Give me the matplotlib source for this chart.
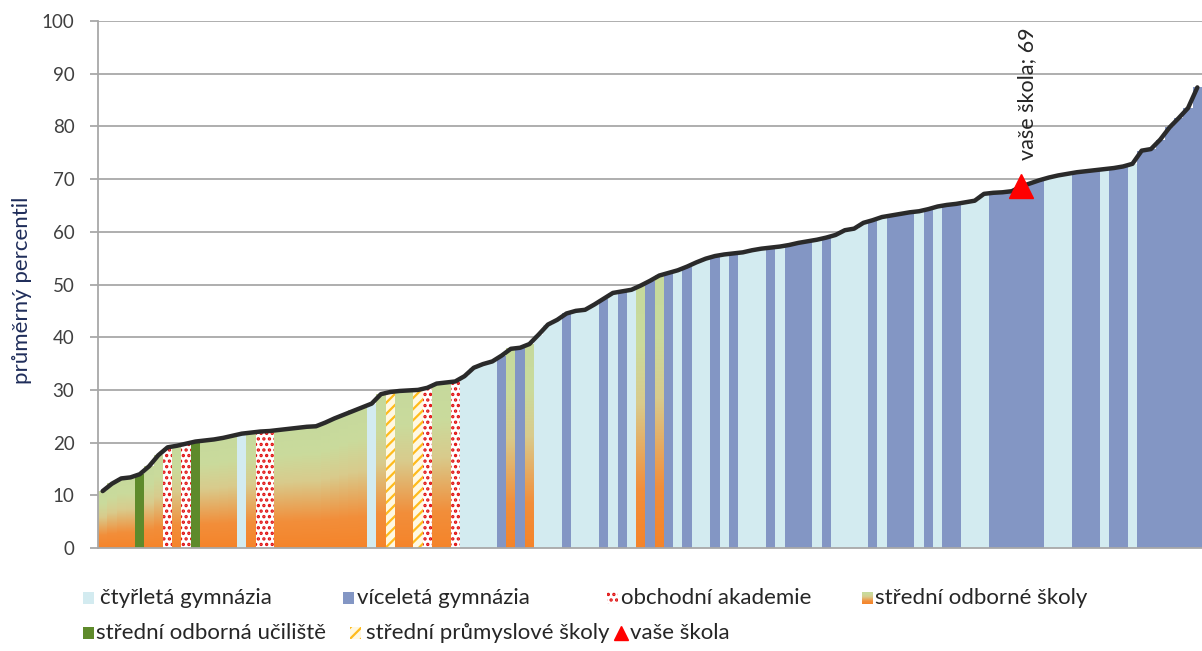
import numpy as np
import matplotlib
matplotlib.use("Agg")
import matplotlib.pyplot as plt
from matplotlib.colors import LinearSegmentedColormap
from matplotlib.patches import Rectangle
from matplotlib.lines import Line2D

plt.rcParams['font.family'] = ['Lato', 'DejaVu Sans']
plt.rcParams['hatch.linewidth'] = 1.6

# prumerny percentil jednotlivych skol (serazeno vzestupne)
percentil = [10.8, 12.2, 13.2, 13.4, 14.0, 15.5, 17.6, 19.1, 19.4, 19.8,
             20.2, 20.4, 20.6, 20.9, 21.3, 21.7, 21.9, 22.1, 22.2, 22.4,
             22.6, 22.8, 23.0, 23.1, 23.8, 24.6, 25.3, 26.0, 26.7, 27.4,
             29.2, 29.6, 29.8, 29.9, 30.0, 30.4, 31.2, 31.4, 31.6, 32.6,
             34.2, 34.9, 35.4, 36.5, 37.8, 38.0, 38.7, 40.5, 42.4, 43.3,
             44.5, 45.0, 45.2, 46.2, 47.3, 48.4, 48.7, 49.0, 49.8, 50.7,
             51.7, 52.2, 52.7, 53.4, 54.2, 54.9, 55.4, 55.7, 55.9, 56.1,
             56.5, 56.8, 57.0, 57.2, 57.5, 57.9, 58.2, 58.5, 58.9, 59.4,
             60.3, 60.6, 61.7, 62.2, 62.8, 63.1, 63.4, 63.7, 63.9, 64.3,
             64.8, 65.1, 65.3, 65.6, 65.9, 67.2, 67.4, 67.5, 67.7, 68.6,
             69.2, 69.8, 70.3, 70.7, 71.0, 71.3, 71.5, 71.7, 71.9, 72.1,
             72.4, 72.9, 75.4, 75.7, 77.5, 79.8, 81.6, 83.5, 87.4]

# typ skoly: CG ctyrleta gymn., VG viceleta gymn., OA obch. akademie,
# SOS stredni odborne skoly, SOU stredni odborna uciliste, SPS prumyslovky
typ = (['SOS'] * 4 + ['SOU'] + ['SOS'] * 2 + ['OA', 'SOS', 'OA', 'SOU']
       + ['SOS'] * 4 + ['CG', 'SOS'] + ['OA'] * 2 + ['SOS'] * 10
       + ['CG', 'SOS', 'SPS'] + ['SOS'] * 2 + ['SPS', 'OA'] + ['SOS'] * 2
       + ['OA'] + ['CG'] * 4 + ['VG', 'SOS', 'VG', 'SOS'] + ['CG'] * 3
       + ['VG'] + ['CG'] * 3
       + ['VG', 'CG', 'VG', 'CG', 'SOS', 'VG', 'SOS', 'VG', 'CG', 'VG']
       + ['CG'] * 2 + ['VG', 'CG', 'VG'] + ['CG'] * 3 + ['VG', 'CG']
       + ['VG'] * 3 + ['CG', 'VG'] + ['CG'] * 4 + ['VG', 'CG'] + ['VG'] * 3
       + ['CG', 'VG', 'CG'] + ['VG'] * 2 + ['CG'] * 3 + ['VG'] * 6
       + ['CG'] * 3 + ['VG'] * 3 + ['CG'] + ['VG'] * 2 + ['CG'] + ['VG'] * 7)

vase_skola = 99  # poradi nasi skoly

nazvy = {
    'CG': 'čtyřletá gymnázia',
    'VG': 'víceletá gymnázia',
    'OA': 'obchodní akademie',
    'SOS': 'střední odborné školy',
    'SOU': 'střední odborná učiliště',
    'SPS': 'střední průmyslové školy',
}

styly = {
    'CG': dict(facecolor='#d3ebf0', edgecolor='#d3ebf0'),
    'VG': dict(facecolor='#8396c4', edgecolor='#8396c4'),
    'SOU': dict(facecolor='#5e8a2b', edgecolor='#5e8a2b'),
    'OA': dict(facecolor='white', edgecolor='#e01010', hatch='...'),
    'SPS': dict(facecolor='#fff8e2', edgecolor='#ffbb1c', hatch='///'),
}

sos_cmap = LinearSegmentedColormap.from_list(
    'sos', [(0.0, '#f5842a'), (0.22, '#f28e3a'), (0.55, '#d9cb8c'),
            (0.78, '#cadb9c'), (1.0, '#c6d99c')])
grad = np.linspace(0, 1, 256).reshape(-1, 1)

W, H = 1202, 651
fig = plt.figure(figsize=(W / 100, H / 100), dpi=100)
ax = fig.add_axes([98 / W, 103 / H, 1104 / W, 527 / H])

n = len(percentil)
for i, (v, t) in enumerate(zip(percentil, typ)):
    if t == 'SOS':
        ax.imshow(grad, cmap=sos_cmap, extent=(i, i + 1, 0, v),
                  aspect='auto', origin='lower', zorder=2,
                  interpolation='bilinear')
    else:
        ax.bar(i, v, width=1, align='edge', linewidth=0,
               antialiased=False, zorder=2, **styly[t])

xs = np.arange(n) + 0.5
ax.plot(xs, percentil, color='#2a2a2a', lw=3.2, solid_joinstyle='round',
        solid_capstyle='round', zorder=4)

vy = percentil[vase_skola]
ax.plot(xs[vase_skola], vy, marker='^', color='#ff0000', ms=17,
        zorder=5, clip_on=False)
ax.annotate('vaše škola; %d' % round(vy), xy=(xs[vase_skola], vy),
            xytext=(4, 19), textcoords='offset points', rotation=90,
            ha='center', va='bottom', fontsize=15.5, color='#262626')

ax.set_xlim(0, n)
ax.set_ylim(0, 100)
ax.set_yticks(range(0, 101, 10))
ax.set_xticks([])
ax.set_axisbelow(True)
ax.yaxis.grid(True, color='#a8a8a8', lw=1.3)
for s in ['top', 'right']:
    ax.spines[s].set_visible(False)
for s in ['left', 'bottom']:
    ax.spines[s].set_color('#a8a8a8')
    ax.spines[s].set_linewidth(1.3)
ax.tick_params(axis='y', length=6, width=1.3, color='#a8a8a8', pad=11,
               labelsize=13.5, labelcolor='#404040')

fig.text(22 / W, 1 - 290 / H, 'průměrný percentil', rotation=90,
         ha='center', va='center', fontsize=16, color='#1f2d5a')

# legenda
def fx(px):
    return px / W

def fy(py):
    return 1 - py / H

leg = [('CG', 83, 598, 100), ('VG', 343, 598, 357), ('OA', 607, 598, 621),
       ('SOS', 862, 598, 875), ('SOU', 83, 633, 96), ('SPS', 350, 633, 366)]
sq = 11
for t, x0, yc, tx in leg:
    if t == 'SOS':
        lax = fig.add_axes([fx(x0), fy(yc + 6), sq / W, 12 / H])
        lax.imshow(grad, cmap=sos_cmap, aspect='auto', origin='lower')
        lax.axis('off')
    else:
        fig.add_artist(Rectangle((fx(x0), fy(yc + 6)), sq / W, 12 / H,
                                 transform=fig.transFigure, linewidth=0,
                                 **styly[t]))
    fig.text(fx(tx), fy(yc), nazvy[t], ha='left', va='center',
             fontsize=16, color='#262626')

fig.add_artist(Line2D([fx(621)], [fy(633)], marker='^', color='#ff0000',
                      ms=10, transform=fig.transFigure))
fig.text(fx(630), fy(633), 'vaše škola', ha='left', va='center',
         fontsize=16, color='#262626')

fig.savefig('out.png', dpi=100)
